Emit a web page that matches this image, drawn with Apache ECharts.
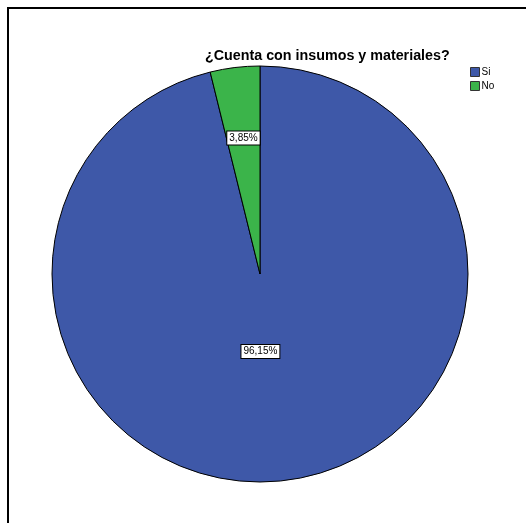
<!DOCTYPE html>
<html>
<head>
<meta charset="utf-8">
<script src="https://cdn.jsdelivr.net/npm/echarts@6/dist/echarts.min.js"></script>
<style>
  html, body { margin: 0; padding: 0; background: #fff; }
  #frame { position: absolute; left: 7px; top: 7px; width: 530px; height: 530px;
           border-left: 2px solid #000; border-top: 2px solid #000; }
  #chart { position: absolute; left: 0; top: 0; width: 526px; height: 523px; }
</style>
</head>
<body>
<div id="frame"></div>
<div id="chart"></div>
<script>
const title = '¿Cuenta con insumos y materiales?';
const categories = ['Si', 'No'];
const values = [96.15, 3.85];
const colors = ['#3e58a8', '#3bb44a'];

const total = values.reduce((a, b) => a + b, 0);
const pctText = v => (v / total * 100).toFixed(2).replace('.', ',') + '%';

const chart = echarts.init(document.getElementById('chart'));

const baseData = categories.map((c, i) => ({ name: c, value: values[i] }));

const labelStyle = {
  show: true,
  position: 'inside',
  color: '#000',
  fontFamily: 'Arial, "Liberation Sans", sans-serif',
  fontSize: 10,
  backgroundColor: '#fff',
  borderColor: '#000',
  borderWidth: 1,
  padding: [2, 2, 1, 2],
  formatter: p => pctText(p.value)
};

// transparent overlay series that only carry one slice's label
function labelSeries(radius, showIndex, offset) {
  return {
    type: 'pie',
    center: [260, 274],
    radius: radius,
    startAngle: 90,
    clockwise: true,
    silent: true,
    animation: false,
    legendHoverLink: false,
    itemStyle: { color: 'transparent', borderWidth: 0 },
    labelLine: { show: false },
    data: baseData.map((d, i) => ({
      name: d.name + ' ',
      value: d.value,
      label: Object.assign({}, labelStyle, { show: i === showIndex, offset: offset })
    }))
  };
}

chart.setOption({
  animation: false,
  title: {
    text: title,
    left: 205,
    top: 49,
    padding: 0,
    textStyle: { fontFamily: 'Arial, "Liberation Sans", sans-serif', fontSize: 14.3, fontWeight: 'bold', color: '#000' }
  },
  legend: {
    orient: 'vertical',
    left: 470,
    top: 67,
    padding: 0,
    itemWidth: 9,
    itemHeight: 9,
    itemGap: 4,
    icon: 'rect',
    data: categories,
    itemStyle: { borderColor: '#333', borderWidth: 1 },
    textStyle: { fontFamily: 'Arial, "Liberation Sans", sans-serif', fontSize: 10, color: '#000', padding: [0, 0, 0, -3] }
  },
  color: colors,
  series: [
    {
      type: 'pie',
      center: [260, 274],
      radius: [0, 208],
      startAngle: 90,
      clockwise: true,
      silent: true,
      animation: false,
      itemStyle: { borderColor: '#000', borderWidth: 1 },
      label: { show: false },
      labelLine: { show: false },
      data: baseData
    },
    labelSeries([0, 150], 0, [-9, 0]),
    labelSeries([0, 268], 1, [0, 0])
  ]
});
</script>
</body>
</html>
